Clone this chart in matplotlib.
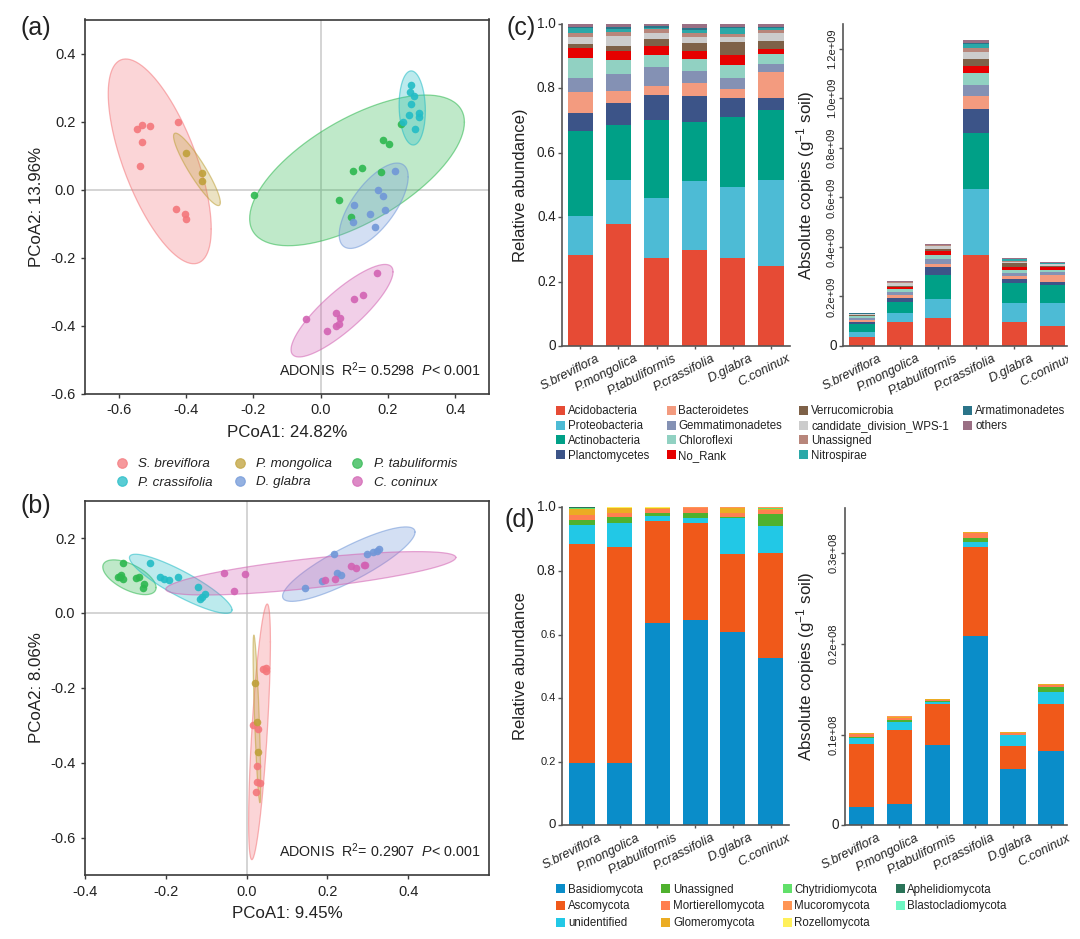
import numpy as np
import matplotlib
matplotlib.use("Agg")
import matplotlib.pyplot as plt
from matplotlib.patches import Rectangle
from matplotlib.transforms import Bbox, ScaledTranslation

plt.rcParams['font.family'] = ['Liberation Sans', 'DejaVu Sans']
plt.rcParams['mathtext.fontset'] = 'custom'
plt.rcParams['mathtext.rm'] = 'Liberation Sans'
plt.rcParams['mathtext.it'] = 'Liberation Sans:italic'
plt.rcParams['mathtext.default'] = 'regular'

W, H = 1080, 939
species = ["S. breviflora", "P. mongolica", "P. tabuliformis", "P. crassifolia", "D. glabra", "C. coninux"]
bar_names = ["S.breviflora", "P.mongolica", "P.tabuliformis", "P.crassifolia", "D.glabra", "C.coninux"]
colors = ["#F4777B", "#BFA13A", "#2DB84F", "#22BCC6", "#7097D8", "#D263B3"]

# PCoA scores, panel (a)
a_x = [
    [-0.546, -0.531, -0.506, -0.425, -0.530, -0.536, -0.430, -0.403, -0.399],
    [-0.399, -0.351, -0.353],
    [-0.197, 0.055, 0.090, 0.096, 0.124, 0.179, 0.185, 0.203, 0.240],
    [0.267, 0.266, 0.277, 0.268, 0.293, 0.293, 0.262, 0.245, 0.280],
    [0.222, 0.169, 0.185, 0.098, 0.190, 0.147, 0.097, 0.160],
    [0.168, 0.126, 0.099, 0.045, 0.056, 0.055, 0.046, 0.018, -0.043],
]
a_y = [
    [0.179, 0.190, 0.188, 0.198, 0.139, 0.070, -0.058, -0.071, -0.086],
    [0.108, 0.048, 0.024],
    [-0.015, -0.030, -0.082, 0.054, 0.063, 0.052, 0.147, 0.133, 0.193],
    [0.308, 0.287, 0.276, 0.252, 0.226, 0.213, 0.219, 0.199, 0.177],
    [0.054, -0.001, -0.019, -0.045, -0.060, -0.073, -0.094, -0.110],
    [-0.244, -0.309, -0.321, -0.364, -0.377, -0.396, -0.400, -0.415, -0.381],
]
# ellipse outline: xmin, xmax, ymin, ymax, x at the top point
a_ell = [
    [-0.631, -0.325, -0.218, 0.384, -0.579],
    [-0.437, -0.298, -0.047, 0.166, -0.431],
    [-0.211, 0.427, -0.165, 0.278, 0.312],
    [0.233, 0.311, 0.131, 0.349, 0.269],
    [0.055, 0.260, -0.173, 0.078, 0.227],
    [-0.088, 0.215, -0.492, -0.220, 0.191],
]

# PCoA scores, panel (b)
b_x = [
    [0.040, 0.047, 0.049, 0.017, 0.028, 0.026, 0.026, 0.033, 0.023],
    [0.022, 0.026, 0.027],
    [-0.307, -0.318, -0.312, -0.314, -0.306, -0.275, -0.267, -0.254, -0.256],
    [-0.238, -0.214, -0.205, -0.192, -0.169, -0.121, -0.103, -0.111, -0.116],
    [0.144, 0.186, 0.217, 0.224, 0.234, 0.298, 0.314, 0.324, 0.328],
    [-0.055, -0.005, -0.030, 0.194, 0.218, 0.259, 0.271, 0.291, 0.292],
]
b_y = [
    [-0.150, -0.148, -0.155, -0.299, -0.311, -0.409, -0.451, -0.454, -0.478],
    [-0.187, -0.290, -0.371],
    [0.134, 0.097, 0.101, 0.095, 0.090, 0.093, 0.097, 0.077, 0.068],
    [0.134, 0.097, 0.092, 0.088, 0.097, 0.069, 0.051, 0.042, 0.037],
    [0.066, 0.086, 0.157, 0.107, 0.101, 0.157, 0.163, 0.165, 0.171],
    [0.108, 0.105, 0.060, 0.088, 0.091, 0.125, 0.119, 0.128, 0.128],
]
b_ell = [
    [0.005, 0.059, -0.659, 0.024, 0.051],
    [0.016, 0.035, -0.507, -0.059, 0.018],
    [-0.356, -0.224, 0.049, 0.142, -0.329],
    [-0.290, -0.036, -0.001, 0.157, -0.275],
    [0.089, 0.417, 0.031, 0.230, 0.394],
    [-0.200, 0.518, 0.048, 0.164, 0.421],
]

# bacteria, one row per plant species, one column per phylum
bact_names = ["Acidobacteria", "Proteobacteria", "Actinobacteria", "Planctomycetes",
              "Bacteroidetes", "Gemmatimonadetes", "Chloroflexi", "No_Rank",
              "Verrucomicrobia", "candidate_division_WPS-1", "Unassigned", "Nitrospirae",
              "Armatimonadetes", "others"]
bact_colors = ["#E64B35", "#4DBBD5", "#00A087", "#3C5488", "#F39B7F", "#8491B4", "#91D1C2",
               "#E60000", "#7E6148", "#CCCCCC", "#B8867B", "#2BA8A8", "#2B7489", "#9A6F84"]
bact_rel = [
    [.281, .121, .264, .058, .063, .043, .065, .030, .012, .023, .011, .015, .004, .010],
    [.378, .137, .171, .068, .036, .055, .042, .027, .016, .033, .012, .010, .005, .010],
    [.272, .186, .243, .079, .027, .058, .037, .029, .022, .019, .011, .005, .004, .008],
    [.298, .213, .185, .080, .041, .036, .037, .026, .023, .020, .013, .010, .005, .013],
    [.272, .222, .218, .058, .028, .034, .040, .032, .039, .016, .010, .017, .004, .010],
    [.248, .267, .216, .040, .078, .026, .032, .016, .022, .025, .010, .006, .004, .010],
]
bact_abs = [  # in 1e9 copies
    [.036, .019, .035, .007, .008, .007, .008, .003, .002, .003, .002, .001, .001, .001],
    [.098, .037, .043, .017, .010, .012, .012, .009, .006, .012, .002, .001, .001, .002],
    [.112, .076, .099, .032, .011, .023, .014, .015, .010, .012, .003, .001, .001, .001],
    [.366, .267, .226, .098, .052, .044, .048, .031, .028, .026, .016, .016, .004, .014],
    [.096, .079, .078, .019, .011, .010, .015, .012, .014, .007, .004, .006, .001, .002],
    [.082, .093, .071, .014, .027, .010, .009, .012, .004, .008, .003, .002, .001, .002],
]

# fungi
fung_names = ["Basidiomycota", "Ascomycota", "unidentified", "Unassigned", "Mortierellomycota",
              "Glomeromycota", "Chytridiomycota", "Mucoromycota", "Rozellomycota",
              "Aphelidiomycota", "Blastocladiomycota"]
fung_colors = ["#0A8DC9", "#F0591A", "#22C8E6", "#4FB12E", "#FF7F50", "#EBAC23",
               "#61E06A", "#FF9554", "#FFF05A", "#2A7358", "#6FF7C3"]
fung_rel = [
    [.195, .689, .061, .014, .017, .019, .002, .001, .001, .0005, .0005],
    [.196, .680, .074, .021, .012, .014, .001, .001, .001, 0, 0],
    [.637, .321, .014, .011, .012, .002, .001, .001, .001, 0, 0],
    [.645, .306, .014, .018, .014, .001, .001, .001, 0, 0, 0],
    [.609, .244, .113, .005, .012, .015, .001, .001, 0, 0, 0],
    [.525, .332, .085, .037, .012, .004, .004, .001, 0, 0, 0],
]
fung_abs = [  # in 1e8 copies
    [.0200, .0700, .0065, .0010, .0030, .0010, .0002, .0002, .0002, 0, 0],
    [.0230, .0816, .0088, .0026, .0025, .0011, .0002, .0002, .0002, 0, 0],
    [.0884, .0448, .0022, .0011, .0018, .0004, .0001, .0001, .0001, 0, 0],
    [.2080, .0988, .0048, .0051, .0053, .0006, .0002, 0, 0, 0, 0],
    [.0624, .0249, .0117, .0008, .0015, .0011, .0001, .0001, 0, 0, 0],
    [.0818, .0518, .0128, .0055, .0026, .0011, .0001, 0, 0, 0, 0],
]

dark = "#3a3a3a"


def px_axes(left, top, right, bottom):
    return fig.add_axes([left / W, 1 - bottom / H, (right - left) / W, (bottom - top) / H])


def ellipse_xy(box):
    xmin, xmax, ymin, ymax, xtop = box
    cx, cy = (xmin + xmax) / 2, (ymin + ymax) / 2
    w, h = (xmax - xmin) / 2, (ymax - ymin) / 2
    d = np.arccos((xtop - cx) / w)
    t = np.linspace(0, 2 * np.pi, 200)
    return cx + w * np.cos(t), cy + h * np.cos(t - d)


def pcoa(ax, xs, ys, ells, xlim, ylim, xticks, yticks, xlabel, ylabel, note, note_xy):
    ax.axhline(0, color="#c9c9c9", lw=1.1, zorder=0)
    ax.axvline(0, color="#c9c9c9", lw=1.1, zorder=0)
    for x, y, box, c in zip(xs, ys, ells, colors):
        ex, ey = ellipse_xy(box)
        ax.fill(ex, ey, facecolor=c, alpha=0.3, lw=0, zorder=1)
        ax.plot(ex, ey, color=c, alpha=0.55, lw=0.9, zorder=1)
        ax.scatter(x, y, s=30, color=c, alpha=0.9, lw=0, zorder=2)
    ax.set_xlim(*xlim)
    ax.set_ylim(*ylim)
    ax.set_xticks(xticks)
    ax.set_yticks(yticks)
    ax.set_xticklabels(["%.1f" % v for v in xticks])
    ax.set_yticklabels(["%.1f" % v for v in yticks])
    ax.tick_params(labelsize=10.5, length=3, width=1, color=dark, labelcolor="#222222", pad=4)
    for s in ax.spines.values():
        s.set_color(dark)
        s.set_linewidth(1.2)
    ax.set_xlabel(xlabel, fontsize=12.2, va="center", color="#222222")
    ax.set_ylabel(ylabel, fontsize=12.2, va="center", color="#222222")
    ax.xaxis.set_label_coords(0.5, -0.104)
    ax.yaxis.set_label_coords(-0.119, 0.5)
    ax.text(note_xy[0], note_xy[1], note, fontsize=10.3, va="center", color="#222222")


def stacked(ax, rows, cols, xlim, ylim, ylabel, label_x, yticks, ylabels, ysize, rot=0):
    rows = np.array(rows)
    xpos = np.arange(len(rows))
    bottom = np.zeros(len(rows))
    for j, c in enumerate(cols):
        ax.bar(xpos, rows[:, j], 0.665, bottom=bottom, color=c, lw=0)
        bottom = bottom + rows[:, j]
    ax.set_xlim(*xlim)
    ax.set_ylim(*ylim)
    ax.spines["top"].set_visible(False)
    ax.spines["right"].set_visible(False)
    for s in ("left", "bottom"):
        ax.spines[s].set_color("#555555")
        ax.spines[s].set_linewidth(1.2)
    ax.set_yticks(yticks)
    ax.set_yticklabels(ylabels, rotation=rot, va="center", color="#222222")
    for lab, sz in zip(ax.get_yticklabels(), ysize):
        lab.set_fontsize(sz)
    ax.get_yticklabels()[0].set_rotation(0)
    ax.tick_params(axis="y", length=3, width=1, color="#555555", pad=1.5)
    ax.set_xticks(xpos)
    ax.set_xticklabels(bar_names, rotation=27, ha="right", va="center", rotation_mode="anchor",
                       style="italic", fontsize=9.2, color="#222222")
    ax.tick_params(axis="x", length=2.5, width=1, color="#555555", pad=6)
    shift = ScaledTranslation(19 / 100, 0, fig.dpi_scale_trans)
    for lab in ax.get_xticklabels():
        lab.set_transform(lab.get_transform() + shift)
    ax.set_ylabel(ylabel, va="center", color="#222222", fontsize=ylabel_size[ylabel])
    ax.yaxis.set_label_coords(label_x, 0.5)


fig = plt.figure(figsize=(W / 100, H / 100), dpi=100)

ax_a = px_axes(85, 19.5, 489, 393.7)
pcoa(ax_a, a_x, a_y, a_ell, (-0.7, 0.5), (-0.6, 0.5), [-0.6, -0.4, -0.2, 0.0, 0.2, 0.4],
     [-0.6, -0.4, -0.2, 0.0, 0.2, 0.4], "PCoA1: 24.82%", "PCoA2: 13.96%",
     r"ADONIS  R$^2$= 0.5298  $\mathit{P}$< 0.001", (-0.123, -0.530))

ax_b = px_axes(85, 500.7, 489, 875)
pcoa(ax_b, b_x, b_y, b_ell, (-0.4, 0.6), (-0.7, 0.3), [-0.4, -0.2, 0.0, 0.2, 0.4],
     [-0.6, -0.4, -0.2, 0.0, 0.2], "PCoA1: 9.45%", "PCoA2: 8.06%",
     r"ADONIS  R$^2$= 0.2907  $\mathit{P}$< 0.001", (0.081, -0.636))

ylabel_size = {"Relative abundance)": 12, "Relative abundance": 12,
               r"Absolute copies (g$^{-1}$ soil)": 12.2}
abs_label = r"Absolute copies (g$^{-1}$ soil)"
rel_ticks = [0, 0.2, 0.4, 0.6, 0.8, 1.0]
rel_labels = ["0", "0.2", "0.4", "0.6", "0.8", "1.0"]

ax_c1 = px_axes(562, 23.7, 790, 346)
stacked(ax_c1, bact_rel, bact_colors, (-0.48, 5.5), (0, 1), "Relative abundance)", -0.184,
        rel_ticks, rel_labels, [9.8] * 6)

ax_c2 = px_axes(843.3, 24, 1066.7, 346)
stacked(ax_c2, bact_abs, bact_colors, (-0.49, 5.38), (0, 1.3), abs_label, -0.169,
        [0, 0.2, 0.4, 0.6, 0.8, 1.0, 1.2],
        ["0", "0.2e+09", "0.4e+09", "0.6e+09", "0.8e+09", "1.0e+09", "1.2e+09"],
        [9.8] + [8] * 6, rot=90)
# the last name runs off the panel in the original
ax_c2.get_xticklabels()[-1].set_clip_box(Bbox([[0, 0], [1068, H]]))
ax_c2.get_xticklabels()[-1].set_clip_on(True)

ax_d1 = px_axes(562, 507.3, 789, 825.3)
stacked(ax_d1, fung_rel, fung_colors, (-0.53, 5.49), (0, 1), "Relative abundance", -0.185,
        rel_ticks, rel_labels, [9.5, 8, 8, 8, 9.8, 9.8])

ax_d2 = px_axes(845, 507.5, 1067, 825.3)
stacked(ax_d2, fung_abs, fung_colors, (-0.43, 5.42), (0, 0.35), abs_label, -0.177,
        [0, 0.1, 0.2, 0.3], ["0", "0.1e+08", "0.2e+08", "0.3e+08"],
        [9.8] + [8] * 3, rot=90)

# legends and panel letters, placed in pixels on a full figure overlay
ov = fig.add_axes([0, 0, 1, 1])
ov.set_xlim(0, W)
ov.set_ylim(H, 0)
ov.axis("off")

leg_x = [121.7, 240, 357.3]
leg_y = [462.7, 481]
for i, (name, c) in enumerate(zip(species, colors)):
    mx, my = leg_x[i % 3], leg_y[i // 3]
    ov.scatter([mx], [my], s=48, facecolor=c, edgecolor=c, alpha=0.75, lw=0.8)
    ov.text(mx + 16.5, my + 4.5, name, style="italic", fontsize=9.6, va="baseline", color="#222222")

bact_cols = [(556.2, 568), (666.7, 678.4), (798.6, 811), (963, 975.3)]
bact_rows = [410.2, 425, 439.8, 454.6]
bact_layout = [(0, 0), (0, 1), (0, 2), (0, 3), (1, 0), (1, 1), (1, 2), (1, 3),
               (2, 0), (2, 1), (2, 2), (2, 3), (3, 0), (3, 1)]
for name, c, (ci, ri) in zip(bact_names, bact_colors, bact_layout):
    sx, tx = bact_cols[ci]
    ov.add_patch(Rectangle((sx, bact_rows[ri] - 4.5), 9, 9, facecolor=c, lw=0))
    ov.text(tx, bact_rows[ri] + 4, name, fontsize=8.3, va="baseline", color="#222222")

fung_cols = [(556, 568), (661, 673), (782.8, 794), (895.7, 907.4)]
fung_rows = [888.8, 905.3, 922.2]
fung_layout = [(0, 0), (0, 1), (0, 2), (1, 0), (1, 1), (1, 2), (2, 0), (2, 1), (2, 2),
               (3, 0), (3, 1)]
for name, c, (ci, ri) in zip(fung_names, fung_colors, fung_layout):
    sx, tx = fung_cols[ci]
    ov.add_patch(Rectangle((sx, fung_rows[ri] - 4.5), 9, 9, facecolor=c, lw=0))
    ov.text(tx, fung_rows[ri] + 4, name, fontsize=8.3, va="baseline", color="#222222")

for letter, x, y in [("(a)", 20, 28), ("(b)", 20, 506), ("(c)", 507, 28), ("(d)", 505, 520)]:
    ov.text(x, y, letter, fontsize=18, va="center", color="#222222")

fig.savefig("out.png", dpi=100)
